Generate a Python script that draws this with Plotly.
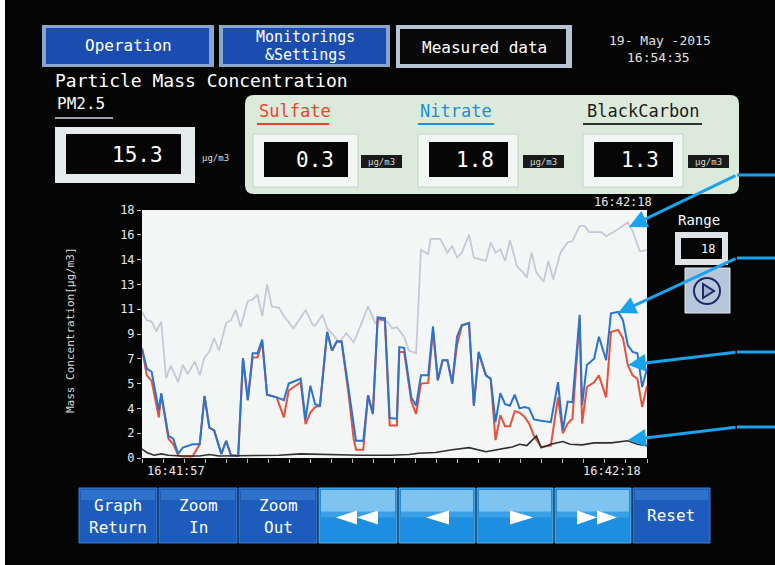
import plotly.graph_objects as go

# ---------------- data ----------------
pm_time = [0.0, 0.2, 0.4, 0.6, 0.8, 1.0, 1.2, 1.5, 1.7, 1.9, 2.2, 2.4, 2.6, 2.8, 3.0, 3.2, 3.5, 3.7, 3.9,
           4.1, 4.4, 4.6, 4.8, 5.0, 5.2, 5.4, 5.7, 5.9, 6.3, 6.8, 7.1, 7.2, 7.5, 7.7, 7.9, 8.2, 8.5, 8.8,
           9.1, 9.4, 9.7, 10.0, 10.2, 10.4, 10.6, 10.9, 11.1, 11.4, 11.6, 11.9, 12.0, 12.4, 12.7, 12.9,
           13.1, 13.3, 13.6, 13.8, 14.1, 14.3, 14.5, 14.7, 14.9, 15.1, 15.3, 15.6, 15.8, 16.0, 16.2,
           16.4, 16.7, 16.9, 17.1, 17.4, 17.7, 17.9, 18.2, 18.4, 18.6, 18.9, 19.1, 19.3, 19.6, 19.8,
           20.2, 20.4, 20.7, 21.0]
pm25 = [10.6, 10.0, 9.9, 9.2, 9.9, 5.8, 6.7, 5.5, 6.75, 6.1, 7.0, 6.0, 7.3, 7.7, 8.7, 7.8, 9.8, 10.0, 10.75,
        9.5, 11.4, 11.5, 11.85, 10.3, 12.6, 11.0, 10.9, 10.3, 9.4, 10.75, 9.65, 9.6, 10.4, 9.4, 9.05, 8.4,
        9.05, 8.4, 9.65, 11.0, 9.8, 10.0, 9.9, 9.4, 9.5, 8.8, 7.8, 7.6, 15.1, 14.8, 15.9, 15.9, 14.9, 15.4,
        14.55, 14.9, 16.2, 14.55, 14.4, 14.3, 15.65, 14.9, 15.15, 14.3, 15.8, 13.9, 13.55, 13.1, 14.9,
        13.45, 12.8, 14.3, 12.95, 14.9, 15.65, 15.75, 16.85, 16.85, 16.4, 16.4, 16.4, 16.1, 16.4, 16.6,
        17.1, 16.5, 15.0, 15.1]

ion_time = [0.0, 0.2, 0.4, 0.7, 0.8, 1.1, 1.3, 1.5, 1.7, 1.9, 2.1, 2.4, 2.6, 2.8, 3.0, 3.3, 3.5, 3.7, 4.0,
            4.2, 4.4, 4.6, 4.8, 5.0, 5.2, 5.6, 5.9, 6.1, 6.4, 6.6, 6.8, 7.0, 7.2, 7.4, 7.7, 7.9, 8.1, 8.3,
            8.6, 8.8, 8.9, 9.2, 9.4, 9.6, 9.8, 10.1, 10.3, 10.6, 10.7, 10.9, 11.2, 11.4, 11.6, 11.9, 12.1,
            12.3, 12.5, 12.7, 12.9, 13.1, 13.3, 13.6, 13.8, 14.0, 14.3, 14.5, 14.7, 14.9, 15.1, 15.3, 15.5,
            15.7, 15.9, 16.1, 16.3, 16.6, 17.0, 17.3, 17.5, 17.7, 17.9, 18.2, 18.3, 18.5, 18.8, 19.0, 19.3,
            19.5, 19.8, 20.0, 20.2, 20.4, 20.6, 20.8, 21.0]
blue_line = [7.95, 6.5, 6.25, 3.45, 4.7, 1.6, 1.4, 0.3, 0.75, 0.9, 1.0, 1.0, 4.5, 2.2, 2.0, 0.3, 1.25, 0.2, 0.15,
             7.25, 4.2, 7.6, 7.6, 8.6, 4.6, 4.4, 4.2, 5.4, 5.6, 5.75, 2.8, 5.25, 3.9, 3.8, 9.15, 7.8, 8.45, 8.45,
             4.9, 2.6, 1.25, 1.25, 4.55, 3.2, 10.2, 10.15, 2.9, 2.85, 8.05, 8.0, 4.4, 3.8, 6.0, 6.0, 9.55,
             5.65, 7.1, 7.1, 5.4, 8.8, 9.65, 9.8, 3.8, 7.7, 6.0, 5.75, 2.6, 4.7, 3.9, 3.8, 4.6, 3.6, 3.7, 3.6,
             2.8, 2.7, 2.6, 5.5, 2.0, 4.1, 4.05, 10.4, 3.85, 6.75, 7.2, 8.8, 7.1, 10.5, 10.6, 10.0, 8.2, 7.7,
             7.6, 5.15, 6.5]
red_line = [7.95, 6.0, 5.6, 2.95, 4.6, 1.4, 1.0, 0.2, 0.1, 0.1, 0.1, 1.0, 4.5, 2.2, 2.0, 0.3, 1.25, 0.2, 0.15,
            7.25, 4.2, 7.3, 7.3, 8.4, 4.6, 4.4, 2.95, 4.9, 5.25, 5.5, 2.45, 3.3, 3.7, 3.8, 9.15, 7.8, 8.45, 8.45,
            4.5, 1.4, 0.6, 0.6, 4.55, 3.2, 10.1, 10.0, 2.35, 2.35, 7.7, 7.7, 4.1, 3.2, 5.4, 5.45, 9.2,
            5.65, 7.1, 7.1, 5.4, 8.2, 9.6, 9.8, 3.8, 7.6, 6.0, 5.75, 1.3, 3.1, 2.3, 2.3, 3.4, 3.3, 3.0, 2.5,
            1.6, 0.8, 0.9, 4.4, 1.8, 2.5, 2.85, 10.1, 2.5, 5.15, 5.5, 6.0, 4.4, 9.15, 9.3, 8.7, 6.75, 6.0,
            5.75, 3.7, 5.25]

bc_time = [0.0, 0.2, 0.5, 0.8, 1.1, 1.6, 2.4, 2.8, 3.2, 4.5, 5.7, 6.6, 7.8, 9.1, 10.3, 11.1, 11.5, 12.2,
           12.9, 13.6, 14.3, 14.8, 15.4, 15.7, 16.0, 16.4, 16.6, 17.0, 17.5, 17.8, 18.3, 18.8, 19.5, 20.2,
           20.6, 21.0]
black_carbon = [0.65, 0.4, 0.2, 0.3, 0.2, 0.15, 0.15, 0.25, 0.15, 0.2, 0.2, 0.3, 0.25, 0.2, 0.2, 0.25, 0.35,
                0.4, 0.6, 0.75, 0.45, 0.6, 0.8, 1.0, 0.9, 1.6, 0.75, 1.0, 1.2, 1.0, 0.95, 1.1, 1.1, 1.25,
                1.0, 0.9]

y_tick_values = [0, 1.8, 3.6, 5.4, 7.2, 9.0, 10.8, 12.6, 14.4, 16.2, 18]
y_tick_labels = ["0", "2", "4", "5", "7", "9", "11", "13", "14", "16", "18"]

start_label = "16:41:57"
end_label = "16:42:18"
pm_value, sulfate_value, nitrate_value, bc_value = "15.3", "0.3", "1.8", "1.3"
range_value = "18"

# ---------------- geometry helpers (pixel -> paper) ----------------
W, H = 775, 565
L, R, T, B = 142, 647, 210, 458
FONT = "DejaVu Sans Mono"


def px(x):
    return (x - L) / (R - L)


def py(y):
    return (B - y) / (B - T)


shapes = []
annots = []


def rect(x0, y0, x1, y1, fill, line=None, lw=0):
    shapes.append(dict(type="rect", xref="paper", yref="paper", x0=px(x0), x1=px(x1), y0=py(y1), y1=py(y0),
                       fillcolor=fill, line=dict(color=line or fill, width=lw)))


def rrect(x0, y0, x1, y1, r, fill, line=None, lw=0):
    p = (f"M {px(x0 + r)},{py(y0)} L {px(x1 - r)},{py(y0)} Q {px(x1)},{py(y0)} {px(x1)},{py(y0 + r)} "
         f"L {px(x1)},{py(y1 - r)} Q {px(x1)},{py(y1)} {px(x1 - r)},{py(y1)} L {px(x0 + r)},{py(y1)} "
         f"Q {px(x0)},{py(y1)} {px(x0)},{py(y1 - r)} L {px(x0)},{py(y0 + r)} Q {px(x0)},{py(y0)} {px(x0 + r)},{py(y0)} Z")
    shapes.append(dict(type="path", xref="paper", yref="paper", path=p, fillcolor=fill,
                       line=dict(color=line or fill, width=lw)))


def poly(pts, fill, line=None, lw=0):
    p = "M " + " L ".join(f"{px(a)},{py(b)}" for a, b in pts) + " Z"
    shapes.append(dict(type="path", xref="paper", yref="paper", path=p, fillcolor=fill,
                       line=dict(color=line or fill, width=lw)))


def hline(x0, x1, y, color, w):
    shapes.append(dict(type="line", xref="paper", yref="paper", x0=px(x0), x1=px(x1), y0=py(y), y1=py(y),
                       line=dict(color=color, width=w)))


def text(x, y, s, size, color, anchor="center", font=FONT, angle=0):
    annots.append(dict(xref="paper", yref="paper", x=px(x), y=py(y), text=s, showarrow=False,
                       xanchor=anchor, yanchor="middle", textangle=angle,
                       font=dict(family=font, size=size, color=color)))


# ---------------- UI chrome ----------------
rect(0, 0, 5, H, "#ffffff")

# top tabs
rect(42, 25, 214, 67, "#8aa6cc")
rect(46, 28, 209, 64, "#1b4db0")
text(128, 46, "Operation", 16, "#ffffff")
rect(219, 25, 390, 67, "#8aa6cc")
rect(223, 28, 386, 64, "#1b4db0")
text(305, 37, "Monitorings", 15, "#ffffff")
text(305, 55, "&Settings", 15, "#ffffff")
rect(396, 25, 572, 68, "#b8c4d4")
rect(400, 29, 566, 64, "#080808")
text(484, 47, "Measured data", 16, "#ffffff")
text(660, 40, "19- May -2015", 13, "#e0e0e0")
text(658, 57, "16:54:35", 13, "#e0e0e0")

# PM2.5
text(53, 81, "Particle Mass Concentration", 18, "#ffffff", anchor="left")
text(55, 104, "PM2.5", 16, "#ffffff", anchor="left")
hline(55, 113, 118, "#9aa0a6", 2)
rect(55, 127, 195, 183, "#e6ecee")
rect(66, 134, 181, 174, "#050505")
text(165, 155, pm_value, 21, "#ffffff", anchor="right")
text(200, 158, "µg/m3", 9, "#dddddd", anchor="left")

# green component panel
rrect(245, 95, 739, 194, 9, "#dceadb")
text(257, 111, "Sulfate", 17, "#e8462c", anchor="left")
hline(257, 329, 124, "#e8462c", 2)
text(418, 111, "Nitrate", 17, "#1e8fd6", anchor="left")
hline(418, 494, 124, "#1e8fd6", 2)
text(585, 111, "BlackCarbon", 17, "#1c1c1c", anchor="left")
hline(583, 702, 124, "#333333", 2)

for (x0, x1, val) in [(253, 358, sulfate_value), (418, 518, nitrate_value), (583, 683, bc_value)]:
    rect(x0, 134, x1, 187, "#f2f6f4", line="#c8d2cc", lw=1)
    rect(x0 + 11, 142, x1 - 10, 177, "#060606")
    text(x1 - 22, 160, val, 21, "#ffffff", anchor="right")
for x0 in [361, 523, 688]:
    rect(x0, 155, x0 + 41, 168, "#1a1a1a")
    text(x0 + 20, 161.5, "µg/m3", 9, "#d8d8c8")

# time labels
text(623, 202, end_label, 12, "#e8e8e8")
text(176, 471, start_label, 12, "#e8e8e8")
text(612, 471, end_label, 12, "#e8e8e8")

# y-axis title
text(70, 330, "Mass Concentration[µg/m3]", 11, "#d8d8d8", angle=-90)

# Range widget
text(699, 220, "Range", 14, "#ffffff")
rect(675, 232, 728, 265, "#dde3e8")
rect(681, 238, 722, 259, "#060606")
text(717, 248.5, range_value, 12, "#ffffff", anchor="right")
rect(685, 268, 730, 313, "#b8c6dc", line="#e0e6ee", lw=1)
shapes.append(dict(type="circle", xref="paper", yref="paper", x0=px(694), x1=px(720), y0=py(304), y1=py(278),
                   line=dict(color="#1a2a6a", width=2)))
poly([(703, 284), (703, 298), (714, 291)], "#9fb0cc", line="#1a2a6a", lw=2)

# callout arrows
ARROW = "#1aa3ec"
for (hy, tx, ty) in [(175, 629, 227), (258, 618, 313), (352, 628, 365), (427, 628, 440)]:
    hline(737, 775, hy, ARROW, 3)
    annots.append(dict(xref="paper", yref="paper", x=px(tx), y=py(ty), ax=737 - tx, ay=hy - ty,
                       axref="pixel", ayref="pixel", text="", showarrow=True, arrowhead=2, arrowsize=1.2,
                       arrowwidth=3, arrowcolor=ARROW, standoff=0))

# bottom buttons
BY0, BY1 = 488, 543
BYC = (BY0 + BY1) / 2
blue_btns = [(79, 157, "Graph", "Return"), (159, 237, "Zoom", "In"), (239, 317, "Zoom", "Out")]
for x0, x1, t1, t2 in blue_btns:
    rect(x0, BY0, x1, BY1, "#1d5cbc", line="#3f7fd4", lw=1)
    rect(x0 + 2, BY0 + 2, x1 - 2, BY0 + 12, "#2f72cc")
    text((x0 + x1) / 2, BYC - 10, t1, 16, "#ffffff")
    text((x0 + x1) / 2, BYC + 12, t2, 16, "#ffffff")
rect(633, BY0, 710, BY1, "#1d5cbc", line="#3f7fd4", lw=1)
rect(635, BY0 + 2, 708, BY0 + 12, "#2f72cc")
text(671, BYC, "Reset", 16, "#ffffff")

arrow_btns = [(319, 397), (399, 475), (477, 553), (555, 631)]
for x0, x1 in arrow_btns:
    rect(x0, BY0, x1, BY1, "#1e8ee0", line="#5fb0ea", lw=1)
    rect(x0 + 2, BY0 + 2, x1 - 2, BYC - 2, "#7fc4f0")
    rect(x0 + 2, BYC - 4, x1 - 2, BYC + 2, "#3aa0e6")
th = 7
poly([(336, BYC + 2), (357, BYC + 2 - th), (357, BYC + 2 + th)], "#ffffff")
poly([(357, BYC + 2), (378, BYC + 2 - th), (378, BYC + 2 + th)], "#ffffff")
poly([(426, BYC + 2), (449, BYC + 2 - th), (449, BYC + 2 + th)], "#ffffff")
poly([(533, BYC + 2), (510, BYC + 2 - th), (510, BYC + 2 + th)], "#ffffff")
poly([(597, BYC + 2), (577, BYC + 2 - th), (577, BYC + 2 + th)], "#ffffff")
poly([(617, BYC + 2), (597, BYC + 2 - th), (597, BYC + 2 + th)], "#ffffff")

# ---------------- figure ----------------
fig = go.Figure()
fig.add_trace(go.Scatter(x=pm_time, y=pm25, mode="lines", name="PM2.5",
                         line=dict(color="#c6c8d8", width=1.8)))
fig.add_trace(go.Scatter(x=ion_time, y=red_line, mode="lines", name="Sulfate",
                         line=dict(color="#e8503a", width=2)))
fig.add_trace(go.Scatter(x=ion_time, y=blue_line, mode="lines", name="Nitrate",
                         line=dict(color="#2a74d0", width=2)))
fig.add_trace(go.Scatter(x=bc_time, y=black_carbon, mode="lines", name="BlackCarbon",
                         line=dict(color="#303030", width=1.6)))

fig.update_layout(
    width=W, height=H, autosize=False,
    margin=dict(l=L, r=W - R, t=T, b=H - B, pad=0),
    paper_bgcolor="#050505", plot_bgcolor="#f4f6f6",
    showlegend=False,
    shapes=shapes, annotations=annots,
    xaxis=dict(range=[0, 21], showgrid=False, zeroline=False, showticklabels=False,
               ticks="outside", ticklen=4, tickcolor="#bbbbbb", tick0=0, dtick=21 / 24,
               showline=False),
    yaxis=dict(range=[0, 18], showgrid=False, zeroline=False, tickmode="array",
               tickvals=y_tick_values, ticktext=y_tick_labels, ticks="outside", ticklen=4,
               tickcolor="#cccccc", tickfont=dict(family=FONT, size=12, color="#e8e8e8"),
               showline=False),
)

fig.write_html("out.html", config={"displayModeBar": False},
               post_script="document.body.style.margin='0px';document.body.style.overflow='hidden';")
